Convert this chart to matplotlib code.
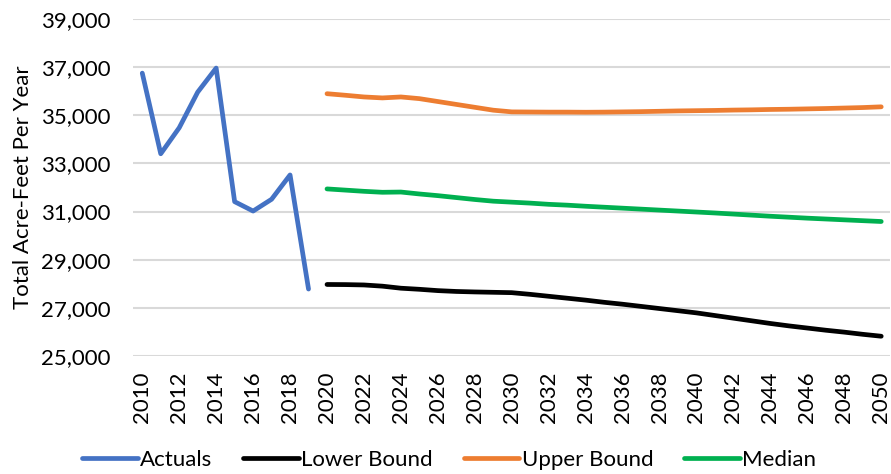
import matplotlib.pyplot as plt
from matplotlib.ticker import FuncFormatter

plt.rcParams['font.family'] = ['Lato', 'DejaVu Sans']

# historical actuals
actual_years = list(range(2010, 2020))
actuals = [36750, 33400, 34480, 35960, 36960, 31410, 31020, 31510, 32520, 27780]

# projections
proj_years = list(range(2020, 2051))
lower_bound = [27970, 27965, 27950, 27900, 27815, 27770, 27715, 27680, 27660, 27645,
               27630, 27560, 27480, 27400, 27320, 27230, 27150, 27060, 26970, 26880,
               26790, 26680, 26570, 26460, 26350, 26250, 26160, 26070, 25990, 25900,
               25820]
upper_bound = [35895, 35830, 35760, 35720, 35760, 35690, 35570, 35450, 35330, 35210,
               35140, 35135, 35130, 35130, 35125, 35130, 35140, 35150, 35165, 35180,
               35190, 35200, 35215, 35225, 35240, 35250, 35265, 35280, 35300, 35320,
               35350]
median = [31940, 31890, 31840, 31800, 31810, 31730, 31660, 31580, 31500, 31430,
          31390, 31350, 31300, 31265, 31220, 31180, 31140, 31100, 31060, 31020,
          30980, 30940, 30895, 30850, 30805, 30765, 30725, 30690, 30655, 30620,
          30586]

FS = 16

fig = plt.figure(figsize=(8.91, 4.74), dpi=100)
ax = fig.add_axes([0.1493, 0.249, 0.8501, 0.711])

lw = 3.4
ax.plot(actual_years, actuals, color='#4472C4', lw=lw, label='Actuals', solid_capstyle='round')
ax.plot(proj_years, lower_bound, color='black', lw=lw, label='Lower Bound', solid_capstyle='round')
ax.plot(proj_years, upper_bound, color='#ED7D31', lw=lw, label='Upper Bound', solid_capstyle='round')
ax.plot(proj_years, median, color='#00B050', lw=lw, label='Median', solid_capstyle='round')

ax.set_xlim(2009.5, 2050.5)
ax.set_ylim(25000, 39000)
ax.set_yticks(range(25000, 39001, 2000))
ax.set_xticks(range(2010, 2051, 2))
ax.yaxis.set_major_formatter(FuncFormatter(lambda v, p: f'{int(v):,}'))
ax.grid(axis='y', color='#d9d9d9', lw=1.5)
ax.set_axisbelow(True)
for s in ax.spines.values():
    s.set_visible(False)
ax.tick_params(axis='both', length=0, labelsize=FS, colors='black')
ax.tick_params(axis='y', pad=16)
ax.tick_params(axis='x', pad=11, labelrotation=90)

ax.set_ylabel('Total Acre-Feet Per Year', fontsize=FS)
ax.yaxis.set_label_coords(-0.132, 0.5)

fig.legend(loc='center', bbox_to_anchor=(0.504, 0.03), ncol=4, frameon=False,
           fontsize=FS, handlelength=2.5, handletextpad=0.1, columnspacing=1.4,
           borderaxespad=0)

fig.savefig('out.png', dpi=100)
